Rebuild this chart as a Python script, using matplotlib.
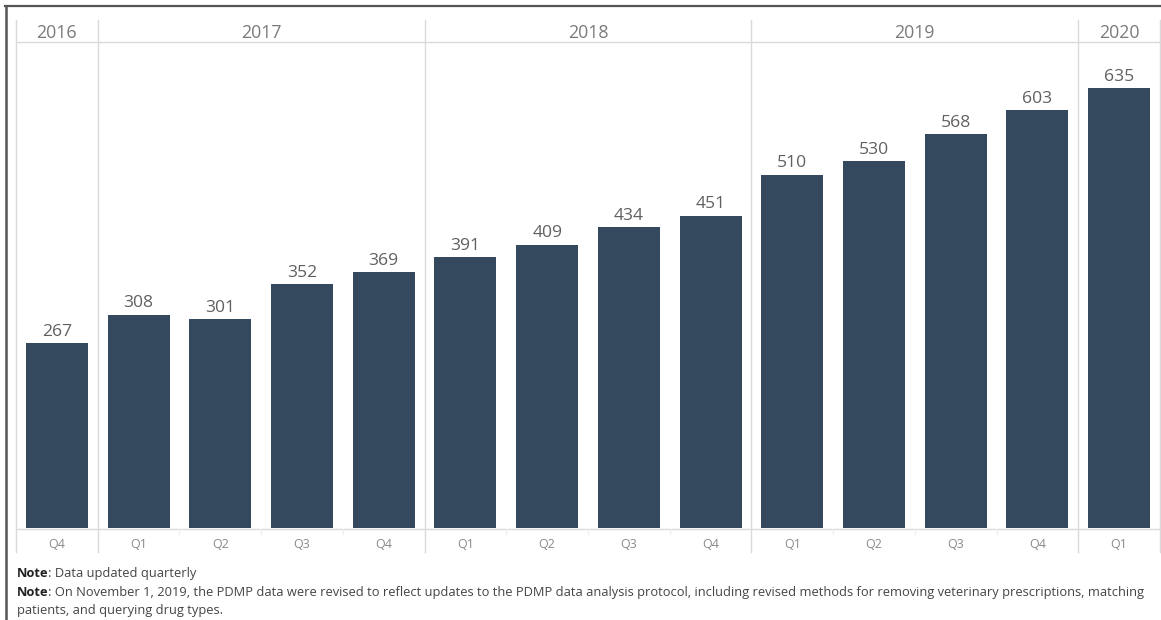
import matplotlib
matplotlib.use("Agg")
import matplotlib.pyplot as plt
from matplotlib.lines import Line2D
import matplotlib.transforms as mtransforms

# ---- data ----
years = ["2016", "2017", "2018", "2019", "2020"]
year_counts = [1, 4, 4, 4, 1]
quarters = ["Q4", "Q1", "Q2", "Q3", "Q4", "Q1", "Q2", "Q3", "Q4",
            "Q1", "Q2", "Q3", "Q4", "Q1"]
values = [267, 308, 301, 352, 369, 391, 409, 434, 451,
          510, 530, 568, 603, 635]
notes = [("Note", ": Data updated quarterly"),
         ("Note", ": On November 1, 2019, the PDMP data were revised to reflect updates to the PDMP data analysis protocol, including revised methods for removing veterinary prescriptions, matching"),
         (None, "patients, and querying drug types.")]

W, H = 1161, 620
fig = plt.figure(figsize=(W / 100, H / 100), dpi=100)
fig.patch.set_facecolor("white")

FONT = "Open Sans"
BAR = "#35495e"
LINE = "#dadada"

# background axis in pixel coordinates for decorations
bg = fig.add_axes([0, 0, 1, 1])
bg.set_xlim(0, W)
bg.set_ylim(H, 0)
bg.axis("off")

# main plot axis
x0, x1, ytop, ybot = 16, 1160, 42, 528
ax = fig.add_axes([x0 / W, 1 - ybot / H, (x1 - x0) / W, (ybot - ytop) / H])
n = len(values)
xs = list(range(n))
ax.bar(xs, values, width=0.76, color=BAR, zorder=3)
ax.set_xlim(-0.5, n - 0.5)
ax.set_ylim(0, 701.4)
ax.axis("off")
for x, v in zip(xs, values):
    ax.annotate(f"{v}", (x, v), xytext=(0, 5.2), textcoords="offset points",
                ha="center", va="baseline", fontsize=12.6, color="#606060",
                family=FONT)

# outer dark border (top & left)
bg.add_line(Line2D([5, W], [6, 6], color="#555555", lw=1.6))
bg.add_line(Line2D([5.5, 5.5], [6, H], color="#555555", lw=1.8))

# grid lines
bg.add_line(Line2D([x0, x1], [42, 42], color=LINE, lw=1))
bg.add_line(Line2D([x0, x1], [529, 529], color=LINE, lw=1))

tr_hdr = mtransforms.blended_transform_factory(ax.transData, fig.transFigure)
# year boundaries and labels
start = 0
bounds = [-0.5]
for yname, cnt in zip(years, year_counts):
    center = start + (cnt - 1) / 2
    ax.text(center, 1 - 37.5 / H, yname, transform=tr_hdr, ha="center",
            va="baseline", fontsize=12.8, color="#7a7a7a", family=FONT)
    start += cnt
    bounds.append(start - 0.5)

for b in bounds:
    ax.add_line(Line2D([b, b], [1 - 20 / H, 1 - 552 / H], transform=tr_hdr,
                       color=LINE, lw=1, clip_on=False))

# faint quarter dividers
for i in range(n - 1):
    b = i + 0.5
    if b in bounds:
        continue
    ax.add_line(Line2D([b, b], [1 - 529 / H, 1 - 534 / H], transform=tr_hdr,
                       color="#eeeeee", lw=1, clip_on=False))

# quarter labels
for x, q in zip(xs, quarters):
    ax.text(x, 1 - 548 / H, q, transform=tr_hdr, ha="center", va="baseline",
            fontsize=9, color="#8a8a8a", family=FONT)

# notes
ny = [577, 596, 614]
NFS = 9.3
fig.canvas.draw()
renderer = fig.canvas.get_renderer()
for (bold, rest), y in zip(notes, ny):
    xr = 17
    if bold:
        t = bg.text(17, y, bold, ha="left", va="baseline", fontsize=NFS,
                    color="#222222", family=FONT, fontweight="bold")
        xr = t.get_window_extent(renderer).x1
    bg.text(xr, H - y, rest, ha="left", va="baseline", fontsize=NFS,
            color="#444444", family=FONT,
            transform=mtransforms.IdentityTransform())

fig.savefig("out.png", dpi=100, facecolor="white")
